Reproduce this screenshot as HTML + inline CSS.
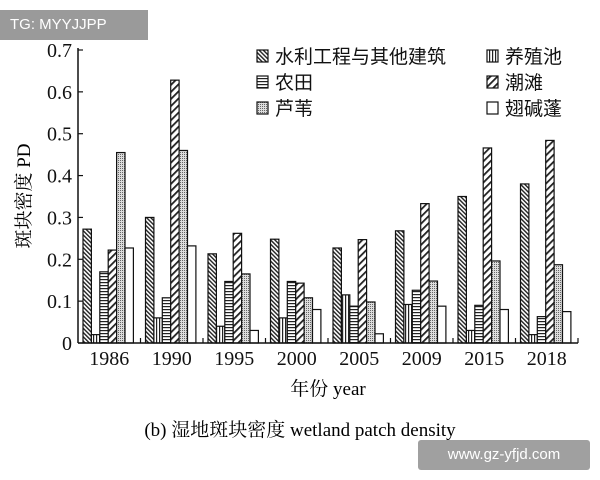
<!DOCTYPE html>
<html><head><meta charset="utf-8"><style>
body{margin:0;background:#fff;width:600px;height:480px;overflow:hidden;position:relative;font-family:"Liberation Serif","Noto Serif CJK SC",serif}
.wm{position:absolute;font-family:"Liberation Sans",sans-serif;color:#fff;font-size:15px}
</style></head><body>
<svg width="600" height="480" style="position:absolute;left:0;top:0">
<defs>
<pattern id="p0" width="3" height="3" patternUnits="userSpaceOnUse" patternTransform="rotate(-45)"><rect width="3" height="3" fill="#fff"/><rect width="1.4" height="3" fill="#222"/></pattern>
<pattern id="p1" width="3" height="3" patternUnits="userSpaceOnUse"><rect width="3" height="3" fill="#fff"/><rect width="1.2" height="3" fill="#222"/></pattern>
<pattern id="p2" width="3" height="3" patternUnits="userSpaceOnUse"><rect width="3" height="3" fill="#fff"/><rect width="3" height="1.2" fill="#222"/></pattern>
<pattern id="p3" width="5" height="5" patternUnits="userSpaceOnUse" patternTransform="rotate(45)"><rect width="5" height="5" fill="#fff"/><rect width="1.8" height="5" fill="#222"/></pattern>
<pattern id="p4" width="2" height="2" patternUnits="userSpaceOnUse"><rect width="2" height="2" fill="#ddd"/><rect width="1" height="1" fill="#666"/></pattern>
<pattern id="p5" width="2" height="2" patternUnits="userSpaceOnUse"><rect width="2" height="2" fill="#fff"/></pattern>
</defs>
<g id="bars"></g>
<g id="axes" font-size="20" fill="#111"></g>
<g id="legend" font-family="Liberation Sans,Noto Sans CJK SC,sans-serif" font-size="19" fill="#111"></g>
<text x="30" y="196" transform="rotate(-90 30 196)" text-anchor="middle" font-size="19">斑块密度 PD</text>
<text x="328" y="395" text-anchor="middle" font-size="19">年份 year</text>
<text x="300" y="436" text-anchor="middle" font-size="19">(b)  湿地斑块密度 wetland patch density</text>
</svg>
<div class="wm" style="left:0;top:10px;width:148px;height:30px;background:#9a9a9a;line-height:30px;padding-left:10px;box-sizing:border-box">TG: MYYJJPP</div>
<div class="wm" style="left:418px;top:440px;width:172px;height:30px;background:#a0a0a0;line-height:30px;text-align:center;border-radius:3px">www.gz-yfjd.com</div>
<script>
const years=["1986","1990","1995","2000","2005","2009","2015","2018"];
const seriesNames=["水利工程与其他建筑","养殖池","农田","潮滩","芦苇","翅碱蓬"];
const sWater=[0.272,0.300,0.213,0.248,0.227,0.268,0.350,0.380];
const sPond=[0.020,0.060,0.040,0.060,0.115,0.092,0.030,0.020];
const sFarm=[0.170,0.108,0.147,0.147,0.088,0.126,0.090,0.063];
const sFlat=[0.222,0.628,0.262,0.143,0.247,0.333,0.466,0.484];
const sReed=[0.455,0.460,0.165,0.108,0.098,0.148,0.196,0.187];
const sSuaeda=[0.227,0.232,0.030,0.080,0.022,0.088,0.080,0.075];
const yTicks=["0","0.1","0.2","0.3","0.4","0.5","0.6","0.7"];
const series=[sWater,sPond,sFarm,sFlat,sReed,sSuaeda];
const NS="http://www.w3.org/2000/svg";
const L=78,R=578,Y0=343,Y1=50,VMAX=0.7;
const y=v=>Y0-(v/VMAX)*(Y0-Y1);
const gw=(R-L)/years.length, bw=8.4;
const x=(g,s)=>L+g*gw+5+s*bw;
function mk(t,a,p){const e=document.createElementNS(NS,t);for(const k in a)e.setAttribute(k,a[k]);p.appendChild(e);return e;}
const bars=document.getElementById('bars');
series.forEach((arr,s)=>arr.forEach((v,g)=>{
 const r=mk('rect',{x:x(g,s),y:y(v),width:bw,height:Y0-y(v),fill:`url(#p${s})`,stroke:'#111','stroke-width':1.2},bars);
 
 
}));
const ax=document.getElementById('axes');
const yl=mk('line',{x1:L,y1:Y0,x2:L,y2:Y1-2,stroke:'#111','stroke-width':1.5},ax);

const xl=mk('line',{x1:L,y1:Y0,x2:R,y2:Y0,stroke:'#111','stroke-width':1.5},ax);

yTicks.forEach(t=>{const yy=y(+t);
 mk('line',{x1:L,y1:yy,x2:L+5,y2:yy,stroke:'#111','stroke-width':1.2},ax);
 const tx=mk('text',{x:L-6,y:yy+7,'text-anchor':'end'},ax);tx.textContent=t;
 
});
years.forEach((yr,g)=>{
 mk('line',{x1:L+(g+1)*gw,y1:Y0,x2:L+(g+1)*gw,y2:Y0-5,stroke:'#111','stroke-width':1.2},ax);
 const tx=mk('text',{x:L+g*gw+gw/2,y:Y0+22,'text-anchor':'middle'},ax);tx.textContent=yr;
 
});
const lg=document.getElementById('legend');
seriesNames.forEach((n,s)=>{
 const col=s%2, row=Math.floor(s/2);
 const bx=col?487:257, by=50+row*26;
 const g=mk('g',{},lg);
 
 mk('rect',{x:bx,y:by,width:11,height:12,fill:`url(#p${s})`,stroke:'#111','stroke-width':1.2},g);
 const t=mk('text',{x:bx+18,y:by+13},g);t.textContent=n;
});
</script>
</body></html>
